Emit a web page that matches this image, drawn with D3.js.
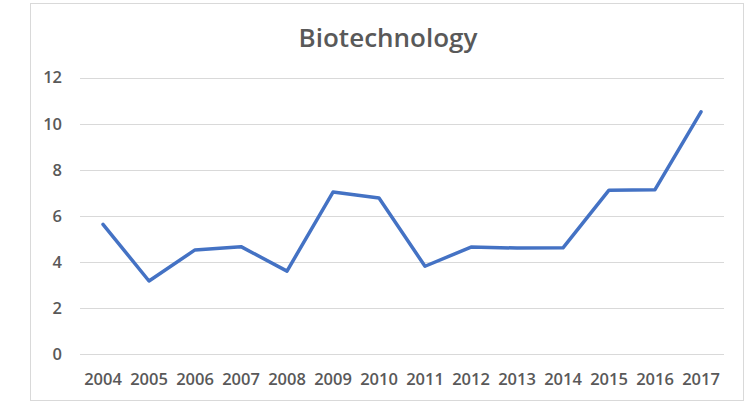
<!DOCTYPE html>
<html>
<head>
<meta charset="utf-8">
<script src="https://cdn.jsdelivr.net/npm/d3@7"></script>
<style>
  body { margin: 0; background: #fff; }
  text { font-family: "Open Sans", sans-serif; fill: #595959; }
</style>
</head>
<body>
<script>
// data
const years = ["2004","2005","2006","2007","2008","2009","2010","2011","2012","2013","2014","2015","2016","2017"];
const values = [5.64, 3.18, 4.53, 4.67, 3.61, 7.04, 6.78, 3.82, 4.65, 4.61, 4.62, 7.12, 7.14, 10.52];
const yTicks = [0, 2, 4, 6, 8, 10, 12];

const WIDTH = 752;
const HEIGHT = 402;

const svg = d3.select("body").append("svg")
  .attr("width", WIDTH)
  .attr("height", HEIGHT);

// chart border
svg.append("rect")
  .attr("x", 30.5).attr("y", 3.5)
  .attr("width", 713).attr("height", 397)
  .attr("fill", "#fff")
  .attr("stroke", "#d9d9d9");

// title
svg.append("text")
  .attr("x", 388).attr("y", 47)
  .attr("text-anchor", "middle")
  .style("font-size", "26px")
  .style("font-weight", 600)
  .text("Biotechnology");

const x = d3.scaleBand().domain(years).range([80, 724]);
const y = d3.scaleLinear().domain([0, 12]).range([354.3, 77.7]);

// gridlines
svg.append("g")
  .selectAll("line")
  .data(yTicks)
  .enter()
  .append("line")
  .attr("x1", 80).attr("x2", 724)
  .attr("y1", d => Math.round(y(d)) + 0.5)
  .attr("y2", d => Math.round(y(d)) + 0.5)
  .attr("stroke", "#d9d9d9")
  .attr("stroke-width", 1);

// y axis labels
const yAxis = svg.append("g")
  .attr("transform", "translate(62,0)")
  .call(d3.axisLeft(y).tickValues(yTicks).tickSize(0).tickPadding(0));
yAxis.select(".domain").remove();
yAxis.selectAll("text")
  .style("font-size", "16.5px")
  .style("font-weight", 600)
  .attr("fill", "#595959");

// x axis labels
const xAxis = svg.append("g")
  .attr("transform", "translate(0,373)")
  .call(d3.axisBottom(x).tickSize(0).tickPadding(0));
xAxis.select(".domain").remove();
xAxis.selectAll("text")
  .style("font-size", "16.5px")
  .style("font-weight", 600)
  .attr("fill", "#595959");

// line
const line = d3.line()
  .x((d, i) => x(years[i]) + x.bandwidth() / 2)
  .y(d => y(d));

svg.append("path")
  .datum(values)
  .attr("d", line)
  .attr("fill", "none")
  .attr("stroke", "#4472C4")
  .attr("stroke-width", 3.5)
  .attr("stroke-linejoin", "round")
  .attr("stroke-linecap", "round");
</script>
</body>
</html>
